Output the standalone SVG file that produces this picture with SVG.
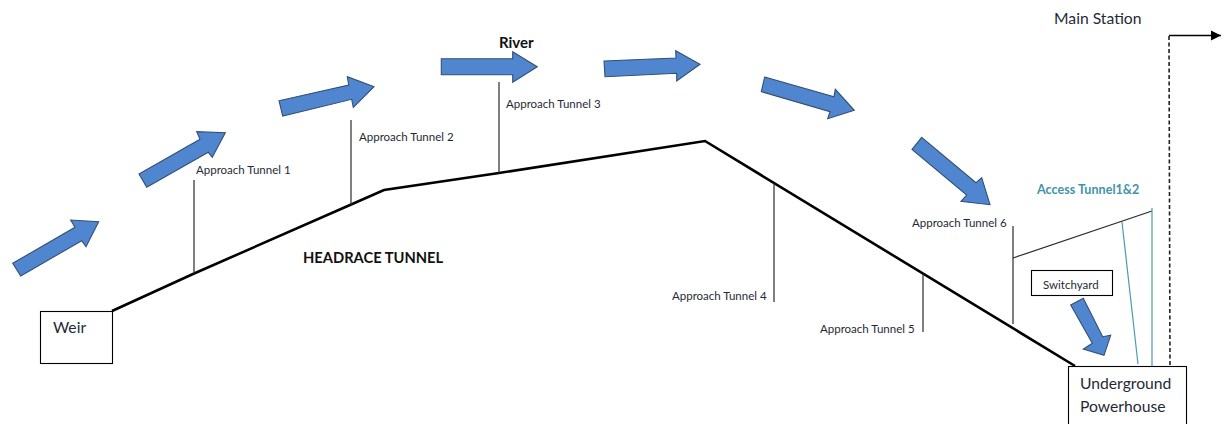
<svg xmlns="http://www.w3.org/2000/svg" width="1228" height="424" viewBox="0 0 1228 424">
<style>
text{font-family:"Lato","Open Sans","Liberation Sans",sans-serif;fill:#1f2a36}
.lbl{font-size:11.5px}
.big{font-size:15.7px}
.bold{font-weight:700;fill:#111}
.flow{fill:#4f86cf;stroke:#34506f;stroke-width:1.1}
.box{fill:#fff;stroke:#000;stroke-width:1.1}
.main{fill:none;stroke:#000;stroke-width:2.6}
.thin{fill:none;stroke:#2a2a2a;stroke-width:1.2}
.teal{fill:none;stroke:#4d9bb0;stroke-width:1.2}
</style>
<defs><marker id="ah" markerUnits="userSpaceOnUse" markerWidth="11" markerHeight="12" refX="10" refY="6" orient="auto"><path d="M0,1L10,6L0,11Z" fill="#000"/></marker></defs>
<rect width="1228" height="424" fill="#fff"/>
<g id="connectors">
<polyline class="main" points="112,311 193,274 350,205 384,190 499,173 705,141 1075,366"/>
<line class="thin" x1="194" y1="180" x2="194" y2="274"/>
<line class="thin" x1="351" y1="120" x2="351" y2="205"/>
<line class="thin" x1="499" y1="82" x2="499" y2="173"/>
<line class="thin" x1="774" y1="183" x2="774" y2="302"/>
<line class="thin" x1="923" y1="274" x2="923" y2="332"/>
<line class="thin" x1="1013" y1="226" x2="1013" y2="324"/>
<line class="thin" x1="1013" y1="258" x2="1152" y2="211"/>
<line class="teal" x1="1122" y1="222" x2="1138" y2="364"/>
<line class="teal" x1="1152" y1="208" x2="1152" y2="366"/>
<line x1="1169" y1="36" x2="1170" y2="366" stroke="#222" stroke-width="1.6" stroke-dasharray="4 2.5"/>
<line x1="1169" y1="35.500" x2="1221" y2="35.500" stroke="#000" stroke-width="1.4" marker-end="url(#ah)"/>
</g>
<g id="flow-arrows">
<polygon class="flow" points="12.7,263.3 75,227.3 70.7,220 98.7,221.7 86,246.7 81.7,240.7 20.7,276"/>
<polygon class="flow" points="139,174 200,139.3 196.7,131.7 225.3,132.7 212.3,157.3 208.3,152.3 146.7,187.3"/>
<polygon class="flow" points="279,100.7 348.7,85 347.3,76.7 374,86.7 353.3,107.3 351.7,99.3 282.7,116"/>
<polygon class="flow" points="441.3,58.7 512.7,58.7 512.7,51.7 537.3,66.7 512.7,82.3 512.7,74.7 441.3,74.7"/>
<polygon class="flow" points="604,61 676,58 675.7,50.7 700,64.3 676.7,81 676.7,73.3 605,76.7"/>
<polygon class="flow" points="764.7,77 834,96.7 835.3,89.3 854.3,110.3 827.7,118.7 830,111.7 761.3,91.7"/>
<polygon class="flow" points="921.7,137.3 976,182.7 981.7,177.7 990,204.7 961,201.3 966.7,195 912,149.3"/>
<polygon class="flow" points="1083.3,298.3 1102.7,336.7 1110.7,335.3 1104,355.3 1083.3,349 1092.3,343.3 1070.7,305"/>
</g>
<g id="weir"><rect class="box" x="40.500" y="311.500" width="72" height="52"/><text class="big" x="53" y="333">Weir</text></g>
<g id="powerhouse"><rect class="box" x="1068.500" y="366.500" width="118" height="70"/><text class="big" x="1080" y="389">Underground</text><text class="big" x="1080" y="412">Powerhouse</text></g>
<g id="switchyard"><rect class="box" x="1031.500" y="270.500" width="81" height="25"/><text class="lbl" x="1043" y="289">Switchyard</text></g>
<g id="main-station"><text class="big" x="1054" y="24">Main Station</text></g>
<g id="river"><text class="bold" font-size="15" x="499" y="48">River</text></g>
<g id="headrace"><text class="bold" font-size="14.700" x="303" y="263">HEADRACE TUNNEL</text></g>
<g id="access"><text class="bold" font-size="12.600" x="1037" y="194" style="fill:#4393aa">Access Tunnel1&amp;2</text></g>
<g id="t1"><text class="lbl" x="196" y="174">Approach Tunnel 1</text></g>
<g id="t2"><text class="lbl" x="359" y="141">Approach Tunnel 2</text></g>
<g id="t3"><text class="lbl" x="506" y="108">Approach Tunnel 3</text></g>
<g id="t4"><text class="lbl" x="672" y="300">Approach Tunnel 4</text></g>
<g id="t5"><text class="lbl" x="820" y="333">Approach Tunnel 5</text></g>
<g id="t6"><text class="lbl" x="912" y="227">Approach Tunnel 6</text></g>
</svg>
